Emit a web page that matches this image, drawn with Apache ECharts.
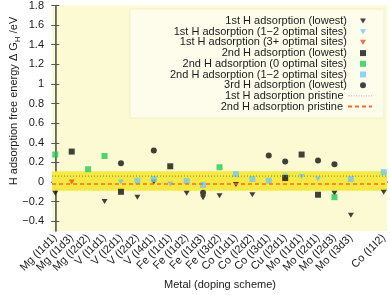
<!DOCTYPE html>
<html>
<head>
<meta charset="utf-8">
<script src="https://cdn.jsdelivr.net/npm/echarts@6/dist/echarts.min.js"></script>
<style>html,body{margin:0;padding:0;background:#fff}#c{width:390px;height:295px}</style>
</head>
<body>
<div id="c"></div>
<script>
// Categories (metal + doping scheme) and their x positions (a gap before the last one)
const categories = ['Mg (I1d1)','Mg (I1d3)','Mg (I2d2)','V (I1d1)','V (I2d1)','V (I2d2)','V (I4d1)',
  'Fe (I1d1)','Fe (I1d2)','Fe (I1d3)','Fe (I3d2)','Co (I1d1)','Co (I2d2)','Co (I3d1)','Cu (I2d1)',
  'Mo (I1d1)','Mo (I2d1)','Mo (I2d3)','Mo (I3d3)','Co (I1I2)'];
const positions = [0,1,2,3,4,5,6,7,8,9,10,11,12,13,14,15,16,17,18,20];

// Values per category (null = no point)
const first_lowest   = [-0.115,null,null,-0.20,null,-0.155,0.0,null,-0.115,-0.16,-0.14,-0.025,-0.13,null,null,null,null,-0.115,-0.34,-0.105];
const first_opt12    = [null,null,null,null,0.0,null,null,-0.02,null,null,null,null,null,null,0.06,0.055,0.03,null,null,null];
const first_opt3p    = [null,0.0,null,null,null,null,null,null,null,null,null,null,null,null,null,null,null,null,null,null];
const second_lowest  = [null,0.31,null,null,-0.10,null,null,0.16,null,null,null,null,null,null,0.04,0.28,-0.13,null,null,null];
const second_opt0    = [0.28,null,0.13,0.265,null,null,null,null,null,null,0.15,null,null,null,null,null,null,-0.155,null,null];
const second_opt12   = [null,null,null,null,null,0.013,0.03,null,0.01,-0.03,null,0.08,0.03,0.013,null,null,null,null,0.03,0.10];
const third_lowest   = [null,null,null,null,0.19,null,0.32,null,null,-0.11,null,null,null,0.27,0.21,null,0.22,0.18,null,null];

const pristine1 = 0.06;
const pristine2 = -0.02;
const band = [-0.09, 0.11];

const yTicks = [-0.4,-0.2,0,0.2,0.4,0.6,0.8,1,1.2,1.4,1.6,1.8];
const xMin = -0.2, xMax = 20.2, yMin = -0.5, yMax = 1.8;

const names = ['1st H adsorption (lowest)','1st H adsorption (1\u22122 optimal sites)','1st H adsorption (3+ optimal sites)',
  '2nd H adsorption (lowest)','2nd H adsorption (0 optimal sites)','2nd H adsorption (1\u22122 optimal sites)',
  '3rd H adsorption (lowest)','1st H adsorption pristine','2nd H adsorption pristine'];

function pts(arr){ const out=[]; arr.forEach((v,i)=>{ if(v!==null) out.push([positions[i], v]); }); return out; }
const tri = 'path://M0,0L10,0L5,8.5Z';
const sq = 'path://M0,0L10,0L10,10L0,10Z';
const circ = 'path://M5,0A5,5,0,1,1,5,10A5,5,0,1,1,5,0Z';
const FONT = 'Liberation Sans, Arial, Helvetica, sans-serif';
const fmtY = v => { const r = Math.round(v*10)/10; return r<0 ? '\u2212'+Math.abs(r) : String(r); };

const scatterDefs = [
  {data:first_lowest, symbol:tri, size:[6,5], color:'#111111'},
  {data:first_opt12, symbol:tri, size:[6,5], color:'#6cc8ee'},
  {data:first_opt3p, symbol:tri, size:[6,5], color:'#e8521e'},
  {data:second_lowest, symbol:sq, size:6, color:'#111111'},
  {data:second_opt0, symbol:sq, size:6, color:'#22cc55'},
  {data:second_opt12, symbol:sq, size:6, color:'#70ccf0'},
  {data:third_lowest, symbol:circ, size:6, color:'#111111'}
];

const series = scatterDefs.map((d,i)=>({
  name:names[i], type:'scatter', data:pts(d.data), symbol:d.symbol, symbolSize:d.size,
  itemStyle:{color:d.color}, z:3
}));
series[0].markArea = {silent:true, itemStyle:{color:'#f6e944'}, data:[[{yAxis:band[0], xAxis:xMin},{yAxis:band[1], xAxis:xMax}]]};
series.push({name:names[7], type:'line', data:[[xMin,pristine1],[xMax,pristine1]], symbol:'none',
  itemStyle:{color:'#7d7d48'}, lineStyle:{color:'#7d7d48', width:1, type:[1,2]}, z:4});
series.push({name:names[8], type:'line', data:[[xMin,pristine2],[xMax,pristine2]], symbol:'none',
  itemStyle:{color:'#ff6a22'}, lineStyle:{color:'#ff6a22', width:1.5, type:[4,3]}, z:4});

const rowY = [21,31.7,42.4,53.1,63.8,74.5,85.2,95.9,106.6];
const legends = names.map((n,i)=>{
  const isLine = i>=7;
  const item = {name:n};
  if(isLine) item.itemStyle = {opacity:0};
  if(i===7) item.lineStyle = {color:'#aab3cc', width:1, type:[1,1.5]};
  return {
    data:[item], orient:'horizontal', align:'right', right: isLine?17:24, top:rowY[i]-6, padding:0,
    itemWidth: isLine?24:6, itemHeight: isLine?12:6, itemGap:0, selectedMode:false, symbolKeepAspect:true,
    textStyle:{fontSize:11, fontFamily:FONT, color:'#1a1a1a', lineHeight:12, padding: isLine?[0,0,0,0]:[0,8,0,0]}
  };
});

const chart = echarts.init(document.getElementById('c'), null, {renderer:'canvas'});
chart.setOption({
  animation:false,
  backgroundColor:'#ffffff',
  grid:{left:52, top:5, right:3, bottom:64, show:true, backgroundColor:'#fcfad2', borderWidth:0},
  legend: legends,
  graphic:[
    {type:'rect', shape:{x:130, y:9, width:254, height:109}, style:{fill:'#fefdec', stroke:'#f2efc8', lineWidth:1}, z:1, silent:true},
    {type:'text', x:12, y:101, rotation:Math.PI/2, silent:true,
     style:{text:'{a|H adsorption free energy \u0394 G}{s|H}{a| /eV}', align:'center', verticalAlign:'middle',
       rich:{a:{fontSize:11, fontFamily:FONT, fill:'#1a1a1a', lineHeight:14, verticalAlign:'bottom'},
             s:{fontSize:8, fontFamily:FONT, fill:'#1a1a1a', lineHeight:14, verticalAlign:'bottom', padding:[0,0,-3,0]}}}},
    {type:'text', x:220, y:285, silent:true,
     style:{text:'Metal (doping scheme)', fontSize:11, fontFamily:FONT, fill:'#1a1a1a', align:'center', verticalAlign:'middle'}}
  ],
  xAxis:[
    {type:'value', min:xMin, max:xMax, position:'bottom',
     axisLine:{lineStyle:{color:'#555', width:1.5}},
     axisTick:{inside:true, length:4, customValues:positions, lineStyle:{color:'#555'}},
     axisLabel:{customValues:positions, rotate:45, margin:5, fontSize:11, fontFamily:FONT, color:'#1a1a1a',
       formatter:v=>{ const k = positions.indexOf(Math.round(v)); return k>=0?categories[k]:''; }},
     splitLine:{show:false}},
    {type:'value', min:xMin, max:xMax, position:'top',
     axisLine:{lineStyle:{color:'#666', width:1}},
     axisTick:{inside:true, length:4, customValues:positions, lineStyle:{color:'#555'}},
     axisLabel:{show:false}, splitLine:{show:false}}
  ],
  yAxis:[
    {type:'value', min:yMin, max:yMax, position:'left',
     axisLine:{show:true, lineStyle:{color:'#555', width:1.5}},
     axisTick:{show:true, inside:true, length:4, customValues:yTicks, lineStyle:{color:'#555'}},
     axisLabel:{customValues:yTicks, margin:8, fontSize:11, fontFamily:FONT, color:'#1a1a1a', formatter:fmtY},
     splitLine:{show:false}},
    {type:'value', min:yMin, max:yMax, position:'right',
     axisLine:{show:true, lineStyle:{color:'#666', width:1}},
     axisTick:{show:true, inside:true, length:4, customValues:yTicks, lineStyle:{color:'#555'}},
     axisLabel:{show:false}, splitLine:{show:false}}
  ],
  series: series
});
</script>
</body>
</html>
